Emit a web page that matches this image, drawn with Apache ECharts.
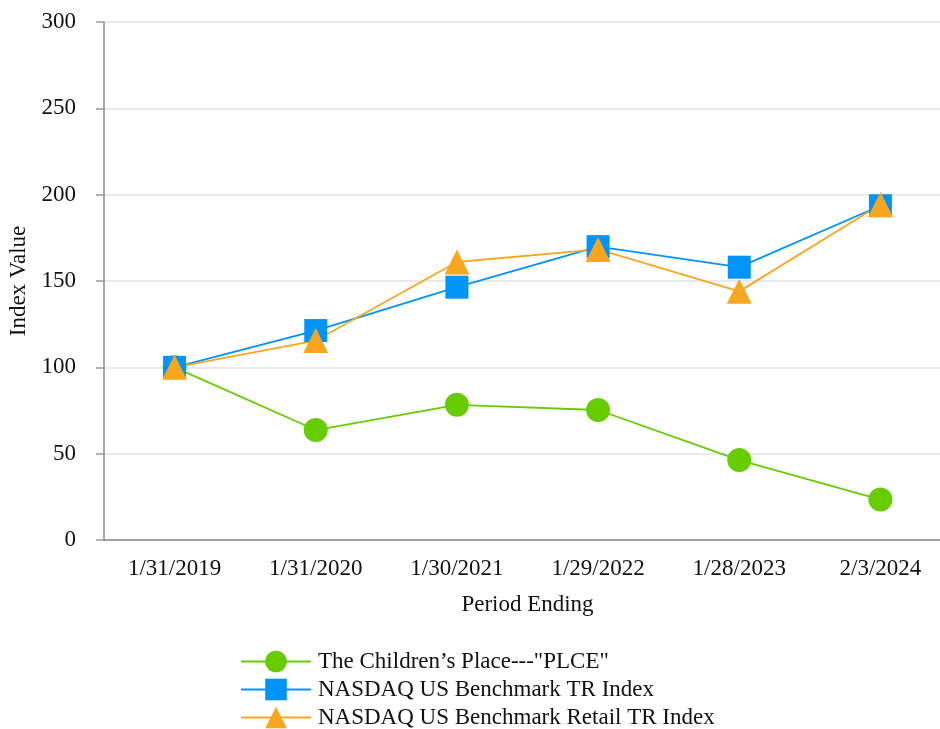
<!DOCTYPE html>
<html>
<head>
<meta charset="utf-8">
<script src="https://cdn.jsdelivr.net/npm/echarts@6/dist/echarts.min.js"></script>
<style>
html,body{margin:0;padding:0;background:#fff;}
#chart{width:940px;height:729px;}
</style>
</head>
<body>
<div id="chart"></div>
<script>
var categories = ["1/31/2019", "1/31/2020", "1/30/2021", "1/29/2022", "1/28/2023", "2/3/2024"];
var plceValues = [100, 63.7, 78.3, 75.3, 46.3, 23.4];
var benchmarkValues = [100, 121.3, 146.4, 169.9, 158, 193.6];
var retailValues = [100, 115.5, 161, 168.3, 144, 194.3];
var seriesNames = ["The Children\u2019s Place---\"PLCE\"", "NASDAQ US Benchmark TR Index", "NASDAQ US Benchmark Retail TR Index"];
var yTicks = { min: 0, max: 300, interval: 50 };

var FONT = "Liberation Serif";
var chart = echarts.init(document.getElementById('chart'));
function mk(name, data, color, symbol, size) {
  return {
    name: name, type: 'line', data: data, symbol: symbol, symbolSize: size,
    itemStyle: { color: color }, lineStyle: { color: color, width: 1.8 },
    emphasis: { disabled: true }, animation: false
  };
}
chart.setOption({
  animation: false,
  textStyle: { fontFamily: FONT, color: '#111' },
  grid: { left: 104, top: 22, width: 847, height: 518, containLabel: false, outerBoundsMode: 'none' },
  xAxis: {
    type: 'category', data: categories, boundaryGap: true,
    name: 'Period Ending', nameLocation: 'middle', nameGap: 53,
    nameTextStyle: { fontFamily: FONT, fontSize: 23, color: '#111' },
    axisLine: { lineStyle: { color: '#888', width: 1.5 } },
    axisTick: { alignWithLabel: true, length: 8, lineStyle: { color: '#999', width: 1.5 } },
    axisLabel: { fontFamily: FONT, fontSize: 23, color: '#111', margin: 17 },
    splitLine: { show: false }
  },
  yAxis: {
    type: 'value', min: yTicks.min, max: yTicks.max, interval: yTicks.interval,
    name: 'Index Value', nameLocation: 'middle', nameGap: 74, nameRotate: 90,
    nameTextStyle: { fontFamily: FONT, fontSize: 23, color: '#111' },
    axisLine: { show: true, lineStyle: { color: '#888', width: 1.5 } },
    axisTick: { show: true, length: 8, lineStyle: { color: '#999', width: 1.5 } },
    axisLabel: { fontFamily: FONT, fontSize: 23, color: '#111', margin: 28 },
    splitLine: { lineStyle: { color: '#e2e2e2', width: 1.5 } }
  },
  legend: {
    orient: 'vertical', left: 240, top: 650, padding: 0,
    itemWidth: 70, itemHeight: 27, itemGap: 5,
    textStyle: { fontFamily: FONT, fontSize: 23, color: '#111', padding: [0,0,0,2] },
    data: seriesNames
  },
  series: [
    mk(seriesNames[0], plceValues, '#66CC00', 'circle', 24),
    mk(seriesNames[1], benchmarkValues, '#0093FA', 'rect', 23),
    mk(seriesNames[2], retailValues, '#F8A620', 'triangle', 25)
  ]
});
</script>
</body>
</html>
